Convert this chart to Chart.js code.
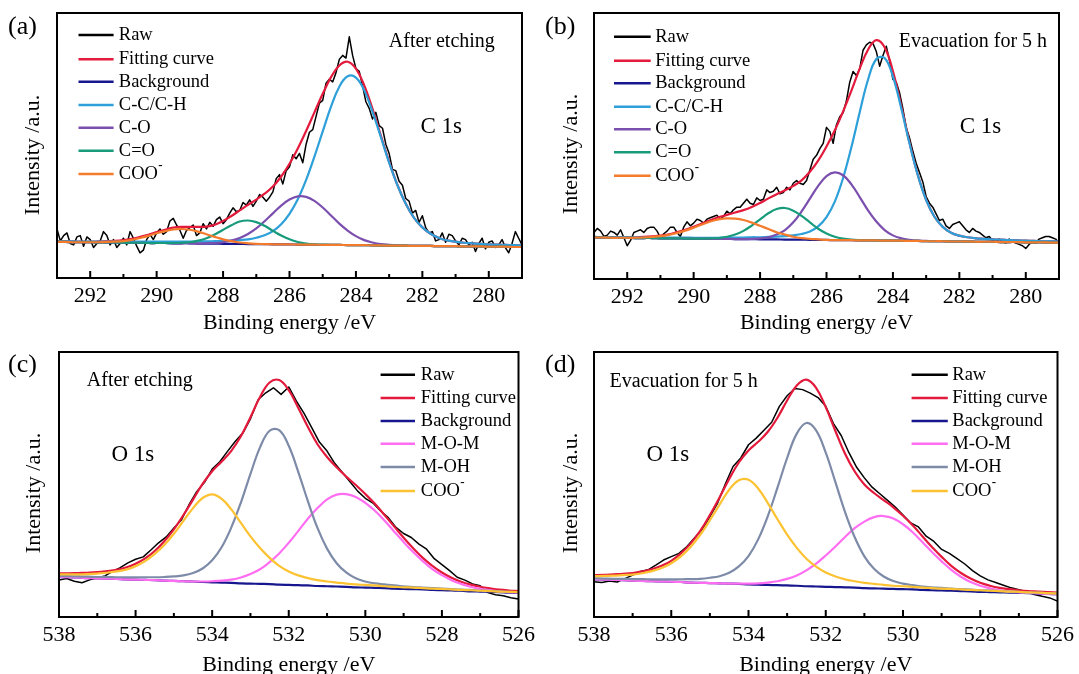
<!DOCTYPE html>
<html>
<head>
<meta charset="utf-8">
<script src="https://cdn.jsdelivr.net/npm/chart.js@4.4.1/dist/chart.umd.min.js"></script>
<style>
html,body{margin:0;padding:0;background:#fff;}
#wrap{position:relative;width:1079px;height:674px;overflow:hidden;background:#fff;}
canvas{position:absolute;}
</style>
</head>
<body>
<div id="wrap">
<canvas id="pa" width="540" height="337" style="left:0px;top:0px"></canvas>
<canvas id="pb" width="539" height="337" style="left:540px;top:0px"></canvas>
<canvas id="pc" width="540" height="337" style="left:0px;top:337px"></canvas>
<canvas id="pd" width="539" height="337" style="left:540px;top:337px"></canvas>
</div>
<script>
// ---------- DATA ----------
// binding energy grids (eV)
const energyC = [293,292.75,292.5,292.25,292,291.75,291.5,291.25,291,290.75,290.5,290.25,290,289.75,289.5,289.25,289,288.75,288.5,288.25,288,287.75,287.5,287.25,287,286.75,286.5,286.25,286,285.75,285.5,285.25,285,284.75,284.5,284.25,284,283.75,283.5,283.25,283,282.75,282.5,282.25,282,281.75,281.5,281.25,281,280.75,280.5,280.25,280,279.75,279.5,279.25,279];
const rawEnergyC = [293,292.9,292.8,292.7,292.6,292.5,292.4,292.3,292.2,292.1,292,291.9,291.8,291.7,291.6,291.5,291.4,291.3,291.2,291.1,291,290.9,290.8,290.7,290.6,290.5,290.4,290.3,290.2,290.1,290,289.9,289.8,289.7,289.6,289.5,289.4,289.3,289.2,289.1,289,288.9,288.8,288.7,288.6,288.5,288.4,288.3,288.2,288.1,288,287.9,287.8,287.7,287.6,287.5,287.4,287.3,287.2,287.1,287,286.9,286.8,286.7,286.6,286.5,286.4,286.3,286.2,286.1,286,285.9,285.8,285.7,285.6,285.5,285.4,285.3,285.2,285.1,285,284.9,284.8,284.7,284.6,284.5,284.4,284.3,284.2,284.1,284,283.9,283.8,283.7,283.6,283.5,283.4,283.3,283.2,283.1,283,282.9,282.8,282.7,282.6,282.5,282.4,282.3,282.2,282.1,282,281.9,281.8,281.7,281.6,281.5,281.4,281.3,281.2,281.1,281,280.9,280.8,280.7,280.6,280.5,280.4,280.3,280.2,280.1,280,279.9,279.8,279.7,279.6,279.5,279.4,279.3,279.2,279.1,279];
const energyO = [538,537.75,537.5,537.25,537,536.75,536.5,536.25,536,535.75,535.5,535.25,535,534.75,534.5,534.25,534,533.75,533.5,533.25,533,532.75,532.5,532.25,532,531.75,531.5,531.25,531,530.75,530.5,530.25,530,529.75,529.5,529.25,529,528.75,528.5,528.25,528,527.75,527.5,527.25,527,526.75,526.5,526.25,526];
const rawEnergyO = [538,537.8,537.6,537.4,537.2,537,536.8,536.6,536.4,536.2,536,535.8,535.6,535.4,535.2,535,534.8,534.6,534.4,534.2,534,533.8,533.6,533.4,533.2,533,532.8,532.6,532.4,532.2,532,531.8,531.6,531.4,531.2,531,530.8,530.6,530.4,530.2,530,529.8,529.6,529.4,529.2,529,528.8,528.6,528.4,528.2,528,527.8,527.6,527.4,527.2,527,526.8,526.6,526.4,526.2,526];

// tick labels
const tickLabelsC = [292,290,288,286,284,282,280];
const minorTicksC = [291,289,287,285,283,281];
const tickLabelsO = [538,536,534,532,530,528,526];
const minorTicksO = [537,535,533,531,529,527];

// series names
const namesC = ['Raw','Fitting curve','Background','C-C/C-H','C-O','C=O','COO⁻'];
const namesO = ['Raw','Fitting curve','Background','M-O-M','M-OH','COO⁻'];

// (a) C 1s after etching
const aRaw = [18.5,14.0,16.0,17.0,13.0,12.5,15.5,16.0,12.0,15.5,14.5,11.5,13.0,14.0,17.5,16.0,12.5,14.5,11.5,13.0,15.0,12.5,17.5,15.0,12.0,9.5,10.5,14.5,16.5,14.5,17.0,18.5,16.5,17.5,21.5,22.5,20.0,18.0,15.0,18.0,19.0,20.0,16.0,17.0,20.5,18.5,21.0,19.5,22.0,23.0,20.5,22.0,24.5,26.5,25.0,25.5,28.5,27.5,29.5,27.0,29.0,31.5,30.5,29.0,30.5,32.5,37.5,39.0,35.5,40.5,42.0,46.5,45.0,47.0,43.5,50.5,55.0,56.0,61.0,66.0,67.0,73.5,75.0,74.0,77.5,82.5,84.0,83.0,91.0,84.0,79.0,78.0,72.5,66.5,64.0,60.0,62.5,57.5,56.5,50.5,47.0,41.0,40.5,36.5,35.0,30.0,29.0,24.5,25.5,21.0,23.5,19.0,17.0,17.5,14.0,14.5,17.0,13.5,16.5,16.0,14.0,12.5,15.0,14.5,12.5,13.5,10.0,13.0,15.0,11.0,13.5,14.0,11.5,12.5,14.5,11.5,9.5,13.0,17.5,15.0,12.5];
const aFit = [13.8,13.8,13.8,13.7,13.7,13.8,13.9,14.0,14.3,14.8,15.5,16.3,17.3,18.2,19.0,19.3,19.3,19.3,19.4,20.1,21.5,23.4,25.5,27.6,29.6,31.8,34.5,38.3,43.1,48.9,55.5,62.5,69.5,75.8,80.2,81.6,79.0,72.7,63.8,53.7,43.8,35.1,28.0,22.7,19.1,16.7,15.1,14.2,13.7,13.3,13.1,12.9,12.7,12.6,12.5,12.4,12.3];
const aBackground = [13.6,13.6,13.5,13.5,13.5,13.4,13.4,13.4,13.3,13.3,13.3,13.2,13.2,13.2,13.1,13.1,13.1,13.0,13.0,13.0,12.9,12.9,12.9,12.8,12.8,12.8,12.7,12.7,12.7,12.6,12.6,12.6,12.5,12.5,12.5,12.4,12.4,12.4,12.3,12.3,12.2,12.2,12.2,12.1,12.1,12.1,12.0,12.0,12.0,11.9,11.9,11.9,11.8,11.8,11.8,11.7,11.7];
const aCC = [13.8,13.8,13.8,13.7,13.7,13.7,13.7,13.7,13.7,13.7,13.7,13.7,13.7,13.7,13.7,13.7,13.7,13.8,13.8,13.9,14.0,14.1,14.3,14.6,15.2,16.1,17.7,20.3,24.2,29.7,37.0,45.8,55.3,64.7,72.2,76.1,75.6,70.8,62.7,53.2,43.5,35.0,28.0,22.7,19.1,16.7,15.1,14.2,13.7,13.3,13.1,12.9,12.7,12.6,12.5,12.4,12.3];
const aCO = [13.6,13.6,13.5,13.5,13.5,13.4,13.4,13.4,13.3,13.3,13.3,13.2,13.2,13.2,13.1,13.1,13.1,13.0,13.1,13.2,13.5,14.1,15.1,16.6,18.7,21.4,24.4,27.3,29.6,30.8,30.6,29.1,26.6,23.6,20.5,17.9,15.8,14.3,13.4,12.8,12.5,12.3,12.2,12.1,12.1,12.1,12.0,12.0,12.0,11.9,11.9,11.9,11.8,11.8,11.8,11.7,11.7];
const aCdO = [13.6,13.6,13.5,13.5,13.5,13.4,13.4,13.4,13.3,13.3,13.3,13.2,13.2,13.2,13.2,13.3,13.5,14.1,15.0,16.4,18.2,19.9,21.3,21.7,21.1,19.7,17.8,16.0,14.6,13.6,13.0,12.7,12.6,12.5,12.5,12.4,12.4,12.4,12.3,12.3,12.2,12.2,12.2,12.1,12.1,12.1,12.0,12.0,12.0,11.9,11.9,11.9,11.8,11.8,11.8,11.7,11.7];
const aCOO = [13.6,13.6,13.5,13.5,13.5,13.5,13.6,13.7,13.9,14.4,15.1,15.9,16.9,17.7,18.3,18.5,18.2,17.5,16.5,15.5,14.6,13.9,13.4,13.1,12.9,12.8,12.7,12.7,12.7,12.6,12.6,12.6,12.5,12.5,12.5,12.4,12.4,12.4,12.3,12.3,12.2,12.2,12.2,12.1,12.1,12.1,12.0,12.0,12.0,11.9,11.9,11.9,11.8,11.8,11.8,11.7,11.7];

// (b) C 1s evacuation for 5 h
const bRaw = [17.5,19.0,18.0,16.0,16.5,18.0,17.5,16.5,18.5,15.5,12.5,14.5,17.5,18.0,18.5,17.5,19.0,19.5,19.5,18.0,15.5,17.0,18.0,19.5,19.5,17.5,16.0,19.5,21.5,20.0,21.0,22.5,22.0,21.0,22.5,23.0,23.5,24.0,22.5,23.5,25.5,24.5,26.0,27.0,27.0,28.5,30.0,28.5,28.0,30.5,29.5,30.0,33.5,32.5,33.0,34.5,32.0,32.5,34.5,33.5,36.0,37.0,36.0,35.5,37.0,41.0,45.0,46.5,49.0,51.0,57.0,55.5,51.0,58.0,61.0,62.5,67.0,74.0,78.0,76.5,79.0,86.0,88.0,89.0,88.5,85.5,80.0,84.0,87.5,82.0,75.0,74.0,70.0,64.0,57.0,53.0,48.0,43.5,40.0,36.5,31.0,28.5,27.0,24.5,22.0,22.5,20.0,19.0,20.5,21.0,21.5,20.0,18.5,17.5,19.0,18.0,17.5,16.5,15.5,16.0,14.5,14.0,15.0,14.0,13.5,15.0,14.0,13.5,13.0,12.5,11.5,13.0,14.0,13.5,15.0,15.5,16.0,16.0,15.5,15.0,13.5];
const bFit = [15.8,15.7,15.7,15.7,15.7,15.7,15.8,16.0,16.3,16.8,17.6,18.5,19.6,20.9,22.1,23.2,24.1,25.0,25.9,27.1,28.6,30.3,31.9,33.4,35.0,37.1,40.3,44.5,49.8,55.9,63.0,70.8,79.1,86.2,89.8,87.1,78.1,65.1,51.3,39.1,29.8,23.4,19.6,17.4,16.3,15.7,15.3,15.1,14.9,14.8,14.6,14.5,14.4,14.3,14.2,14.2,14.1];
const bBackground = [15.6,15.6,15.5,15.5,15.5,15.4,15.4,15.4,15.3,15.3,15.3,15.2,15.2,15.2,15.1,15.1,15.1,15.0,15.0,15.0,14.9,14.9,14.9,14.8,14.8,14.8,14.7,14.7,14.7,14.6,14.6,14.6,14.5,14.5,14.5,14.4,14.4,14.4,14.3,14.3,14.2,14.2,14.2,14.1,14.1,14.1,14.0,14.0,14.0,13.9,13.9,13.9,13.8,13.8,13.8,13.7,13.7];
const bCC = [15.8,15.7,15.7,15.7,15.7,15.6,15.6,15.6,15.6,15.6,15.6,15.6,15.5,15.5,15.5,15.5,15.6,15.6,15.6,15.7,15.7,15.8,15.9,16.1,16.4,16.9,17.9,19.8,23.3,29.1,38.0,49.6,62.7,74.9,82.7,83.1,76.1,64.2,50.9,39.0,29.7,23.4,19.6,17.4,16.3,15.7,15.3,15.1,14.9,14.8,14.6,14.5,14.4,14.3,14.2,14.2,14.1];
const bCO = [15.6,15.6,15.5,15.5,15.5,15.4,15.4,15.4,15.3,15.3,15.3,15.2,15.2,15.2,15.1,15.1,15.1,15.0,15.0,15.1,15.3,15.7,16.7,18.4,21.3,25.4,30.2,35.0,38.7,40.1,39.0,35.6,30.8,25.8,21.6,18.4,16.4,15.3,14.7,14.4,14.3,14.2,14.2,14.1,14.1,14.1,14.0,14.0,14.0,13.9,13.9,13.9,13.8,13.8,13.8,13.7,13.7];
const bCdO = [15.6,15.6,15.5,15.5,15.5,15.4,15.4,15.4,15.3,15.3,15.3,15.2,15.2,15.2,15.3,15.4,15.9,16.7,18.1,20.1,22.4,24.7,26.3,26.7,25.7,23.7,21.3,18.9,17.1,15.9,15.2,14.8,14.6,14.5,14.5,14.4,14.4,14.4,14.3,14.3,14.2,14.2,14.2,14.1,14.1,14.1,14.0,14.0,14.0,13.9,13.9,13.9,13.8,13.8,13.8,13.7,13.7];
const bCOO = [15.6,15.6,15.5,15.5,15.5,15.5,15.6,15.8,16.1,16.6,17.3,18.2,19.3,20.5,21.6,22.4,22.8,22.7,22.2,21.2,20.0,18.8,17.6,16.7,15.9,15.4,15.1,14.9,14.7,14.6,14.6,14.6,14.5,14.5,14.5,14.4,14.4,14.4,14.3,14.3,14.2,14.2,14.2,14.1,14.1,14.1,14.0,14.0,14.0,13.9,13.9,13.9,13.8,13.8,13.8,13.7,13.7];

// (c) O 1s after etching
const cRaw = [14.0,14.5,13.5,12.9,14.0,14.8,15.5,17.2,18.6,20.4,21.8,22.7,25.3,28.0,30.2,33.6,36.7,42.5,47.4,50.8,55.8,58.6,62.5,66.2,69.4,74.8,82.0,84.6,86.5,84.0,86.8,81.5,76.8,71.5,66.0,62.6,58.0,54.5,51.0,47.5,44.8,43.0,40.0,37.5,33.8,31.5,30.0,27.5,25.6,22.0,19.8,17.5,15.0,13.9,12.5,11.8,9.2,8.4,8.0,7.3,6.8];
const cFit = [16.5,16.5,16.6,16.7,16.9,17.3,17.8,18.7,20.1,22.1,24.9,28.6,33.1,38.5,44.3,50.2,55.0,58.7,62.7,68.2,75.4,83.0,88.5,89.4,85.6,78.9,71.7,65.2,60.4,56.5,53.0,49.8,46.4,42.7,38.5,34.2,29.9,25.9,22.3,19.3,16.8,14.8,13.3,12.2,11.4,10.8,10.3,10.0,9.8];
const cBackground = [15.1,15.0,14.9,14.7,14.6,14.5,14.4,14.2,14.1,14.0,13.9,13.7,13.6,13.5,13.4,13.2,13.1,13.0,12.9,12.7,12.6,12.5,12.4,12.2,12.1,12.0,11.9,11.7,11.6,11.5,11.4,11.2,11.1,11.0,10.9,10.7,10.6,10.5,10.4,10.2,10.1,10.0,9.9,9.7,9.6,9.5,9.4,9.2,9.1];
const cMOM = [15.1,15.0,14.9,14.7,14.6,14.5,14.4,14.2,14.1,14.0,13.9,13.7,13.6,13.5,13.4,13.4,13.5,13.7,14.1,14.9,16.2,18.0,20.7,24.0,28.0,32.5,37.1,41.1,44.4,46.2,46.4,45.3,43.1,40.1,36.4,32.3,28.3,24.5,21.1,18.1,15.8,13.9,12.5,11.4,10.6,10.1,9.7,9.4,9.2];
const cMOH = [15.5,15.4,15.3,15.2,15.1,15.1,15.0,15.0,15.0,15.0,15.0,15.1,15.3,15.7,16.6,18.3,21.4,26.4,33.8,43.2,54.0,64.0,70.3,70.5,64.6,54.7,43.7,33.6,25.8,20.3,16.8,14.6,13.4,12.7,12.3,11.9,11.6,11.3,11.1,10.9,10.7,10.5,10.3,10.2,10.0,9.9,9.7,9.5,9.4];
const cCOO = [16.1,16.1,16.1,16.2,16.4,16.7,17.2,17.9,19.2,21.1,23.8,27.2,31.4,36.3,41.1,44.9,46.3,44.6,40.6,35.5,30.4,26.0,22.3,19.3,17.2,15.7,14.7,13.9,13.4,13.0,12.6,12.3,12.1,11.9,11.6,11.4,11.2,11.1,10.9,10.7,10.6,10.4,10.2,10.1,9.9,9.8,9.6,9.5,9.4];

// (d) O 1s evacuation for 5 h
const dRaw = [13.3,13.0,13.6,13.2,14.5,15.8,17.2,17.8,19.6,21.5,22.8,24.0,26.5,29.8,33.0,37.9,43.0,50.2,56.8,60.0,65.0,67.5,70.5,73.5,79.5,83.5,86.2,85.8,84.5,82.8,79.5,73.0,68.5,62.0,56.5,52.5,49.0,46.5,44.0,41.5,38.5,35.5,34.0,30.5,28.5,25.5,24.0,22.0,20.0,17.5,15.5,14.0,13.0,12.0,11.0,10.3,9.5,8.5,7.8,7.2,6.0];
const dFit = [15.8,15.9,16.1,16.3,16.6,17.2,18.0,19.3,21.2,24.0,27.7,32.5,38.5,45.1,52.1,58.3,62.8,66.1,69.9,75.2,81.7,87.4,89.6,86.5,79.2,70.2,61.6,54.9,50.0,46.8,44.1,41.4,38.2,34.6,30.5,26.4,22.7,19.3,16.6,14.5,12.9,11.8,11.0,10.5,10.1,9.8,9.6,9.4,9.2];
const dBackground = [14.2,14.1,14.0,13.9,13.7,13.6,13.5,13.4,13.3,13.2,13.0,12.9,12.8,12.7,12.6,12.5,12.3,12.2,12.1,12.0,11.9,11.8,11.6,11.5,11.4,11.3,11.2,11.1,10.9,10.8,10.7,10.6,10.5,10.4,10.2,10.1,10.0,9.9,9.8,9.7,9.5,9.4,9.3,9.2,9.1,9.0,8.8,8.7,8.6];
const dMOM = [14.2,14.1,14.0,13.9,13.7,13.6,13.5,13.4,13.3,13.2,13.0,12.9,12.8,12.7,12.6,12.6,12.6,12.7,13.0,13.5,14.4,15.7,17.6,20.1,23.2,26.6,30.2,33.5,36.0,37.7,38.1,37.2,35.0,32.0,28.3,24.5,21.0,17.8,15.2,13.2,11.8,10.8,10.1,9.6,9.3,9.1,8.9,8.7,8.6];
const dMOH = [14.6,14.5,14.4,14.4,14.3,14.3,14.2,14.2,14.2,14.2,14.3,14.4,14.8,15.4,16.7,19.1,23.0,29.3,38.1,48.8,60.0,69.2,73.2,70.4,62.0,50.9,39.6,30.1,22.9,18.2,15.3,13.6,12.6,12.0,11.5,11.2,11.0,10.7,10.5,10.3,10.1,10.0,9.8,9.6,9.5,9.3,9.2,9.0,8.9];
const dCOO = [15.4,15.5,15.6,15.8,16.0,16.5,17.3,18.5,20.3,22.9,26.4,31.0,36.5,42.4,48.0,51.6,51.8,48.5,43.0,36.9,31.1,26.1,22.0,19.0,16.8,15.3,14.2,13.5,12.9,12.5,12.1,11.8,11.6,11.4,11.1,10.9,10.7,10.6,10.4,10.2,10.1,9.9,9.8,9.6,9.5,9.3,9.2,9.0,8.9];

// texts
const xTitle = 'Binding energy /eV';
const yTitle = 'Intensity /a.u.';

// ---------- STYLE ----------
const FONT = "'Liberation Serif','Times New Roman',Times,serif";
const colorsC = ['#000000','#e31a3c','#16168e','#2d9fd9','#7b4fae','#179b7b','#f47b2c'];
const colorsO = ['#000000','#e31a3c','#16168e','#ff6ef2','#7e8ba8','#fcc232'];

const panels = [
  { id:'pa', w:540, h:337, area:{left:57,top:13,right:522,bottom:278}, min:279, max:293,
    major:tickLabelsC, minor:minorTicksC, names:namesC, colors:colorsC,
    series:[[rawEnergyC,aRaw],[energyC,aFit],[energyC,aBackground],[energyC,aCC],[energyC,aCO],[energyC,aCdO],[energyC,aCOO]],
    legend:{x1:78.5,x2:113.6,tx:118.8,rows:[35,59.3,81.7,105,127.7,150.7,174]},
    notes:[{t:'After etching',x:388.8,y:42,s:20},{t:'C 1s',x:420.5,y:127,s:23}],
    letter:'(a)', lx:8, ly:34, xty:329, ytx:33, yty:155 },
  { id:'pb', w:539, h:337, area:{left:54,top:13,right:519,bottom:279}, min:279, max:293,
    major:tickLabelsC, minor:minorTicksC, names:namesC, colors:colorsC,
    series:[[rawEnergyC,bRaw],[energyC,bFit],[energyC,bBackground],[energyC,bCC],[energyC,bCO],[energyC,bCdO],[energyC,bCOO]],
    legend:{x1:74,x2:110.7,tx:115.2,rows:[36.7,60.7,83.3,106.7,129.3,152.3,175.7]},
    notes:[{t:'Evacuation for 5 h',x:358.8,y:41.7,s:20},{t:'C 1s',x:419.7,y:127,s:23}],
    letter:'(b)', lx:5, ly:34, xty:329, ytx:31, yty:154 },
  { id:'pc', w:540, h:337, area:{left:59,top:15,right:523,bottom:280}, min:526, max:538,
    major:tickLabelsO, minor:minorTicksO, names:namesO, colors:colorsO,
    series:[[rawEnergyO,cRaw],[energyO,cFit],[energyO,cBackground],[energyO,cMOM],[energyO,cMOH],[energyO,cCOO]],
    legend:{x1:380.6,x2:415,tx:420.8,rows:[37.7,61,84,106.7,130,154]},
    notes:[{t:'After etching',x:86.8,y:43.3,s:20},{t:'O 1s',x:111.5,y:118.3,s:23}],
    letter:'(c)', lx:8, ly:35, xty:334, ytx:34, yty:156 },
  { id:'pd', w:539, h:337, area:{left:54,top:15,right:520,bottom:280}, min:526, max:538,
    major:tickLabelsO, minor:minorTicksO, names:namesO, colors:colorsO,
    series:[[rawEnergyO,dRaw],[energyO,dFit],[energyO,dBackground],[energyO,dMOM],[energyO,dMOH],[energyO,dCOO]],
    legend:{x1:371.6,x2:407.8,tx:412.3,rows:[37.7,61,84,106.7,130,154]},
    notes:[{t:'Evacuation for 5 h',x:69.5,y:45,s:20},{t:'O 1s',x:106.5,y:118,s:23}],
    letter:'(d)', lx:5, ly:35, xty:334, ytx:31, yty:156 }
];

function decor(p) {
  return {
    id: 'decor_' + p.id,
    afterDatasetsDraw(chart) {
      const ctx = chart.ctx, a = chart.chartArea, xs = chart.scales.x;
      ctx.save();
      ctx.strokeStyle = '#000';
      ctx.lineWidth = 2;
      ctx.strokeRect(a.left, a.top, a.right - a.left, a.bottom - a.top);
      ctx.beginPath();
      p.major.forEach(v => { const px = xs.getPixelForValue(v); ctx.moveTo(px, a.bottom); ctx.lineTo(px, a.bottom - 7); });
      p.minor.forEach(v => { const px = xs.getPixelForValue(v); ctx.moveTo(px, a.bottom); ctx.lineTo(px, a.bottom - 4); });
      ctx.stroke();
      // legend
      ctx.fillStyle = '#000';
      ctx.textAlign = 'left';
      ctx.textBaseline = 'middle';
      chart.data.datasets.forEach((ds, i) => {
        const y = p.legend.rows[i];
        ctx.strokeStyle = ds.borderColor;
        ctx.lineWidth = 2.6;
        ctx.beginPath(); ctx.moveTo(p.legend.x1, y); ctx.lineTo(p.legend.x2, y); ctx.stroke();
        let t = ds.label, sup = '';
        if (t.endsWith('⁻')) { t = t.slice(0, -1); sup = '-'; }
        ctx.font = '18.5px ' + FONT;
        ctx.fillText(t, p.legend.tx, y);
        if (sup) {
          const w = ctx.measureText(t).width;
          ctx.font = 'bold 13px ' + FONT;
          ctx.fillText(sup, p.legend.tx + w + 0.5, y - 8);
        }
      });
      // annotations
      p.notes.forEach(n => { ctx.font = n.s + 'px ' + FONT; ctx.fillText(n.t, n.x, n.y); });
      // panel letter
      ctx.textBaseline = 'alphabetic';
      ctx.font = '26px ' + FONT;
      ctx.fillText(p.letter, p.lx, p.ly);
      // axis titles
      ctx.textAlign = 'center';
      ctx.font = '22px ' + FONT;
      ctx.fillText(xTitle, (a.left + a.right) / 2, p.xty);
      ctx.translate(p.ytx, p.yty);
      ctx.rotate(-Math.PI / 2);
      ctx.textBaseline = 'middle';
      ctx.fillText(yTitle, 0, 0);
      ctx.restore();
    }
  };
}

function makeChart(p) {
  const n = p.series.length;
  const datasets = p.series.map((s, i) => ({
    label: p.names[i],
    data: s[0].map((x, k) => ({ x: x, y: s[1][k] })),
    borderColor: p.colors[i],
    backgroundColor: p.colors[i],
    borderWidth: i === 0 ? 1.5 : 2.2,
    pointRadius: 0,
    fill: false,
    tension: i === 0 ? 0 : 0.4,
    borderJoinStyle: 'round',
    order: n - 1 - i
  }));
  new Chart(document.getElementById(p.id), {
    type: 'line',
    data: { datasets: datasets },
    options: {
      responsive: false,
      animation: false,
      devicePixelRatio: 1,
      events: [],
      layout: { autoPadding: false, padding: { left: 0, top: p.area.top, right: p.w - p.area.right, bottom: 0 } },
      plugins: { legend: { display: false }, tooltip: { enabled: false }, title: { display: false } },
      scales: {
        x: {
          type: 'linear', min: p.min, max: p.max, reverse: true,
          grid: { display: false, drawTicks: false },
          border: { display: false },
          ticks: { font: { family: FONT, size: 22 }, color: '#000', padding: 5, autoSkip: false, maxRotation: 0, minRotation: 0,
                    callback: v => String(v) },
          afterBuildTicks: s => { s.ticks = p.major.map(v => ({ value: v })); },
          afterFit: s => { s.height = p.h - p.area.bottom; }
        },
        y: {
          type: 'linear', min: 0, max: 100,
          ticks: { display: false },
          grid: { display: false, drawTicks: false },
          border: { display: false },
          afterFit: s => { s.width = p.area.left; }
        }
      }
    },
    plugins: [decor(p)]
  });
}

panels.forEach(makeChart);
</script>
</body>
</html>
